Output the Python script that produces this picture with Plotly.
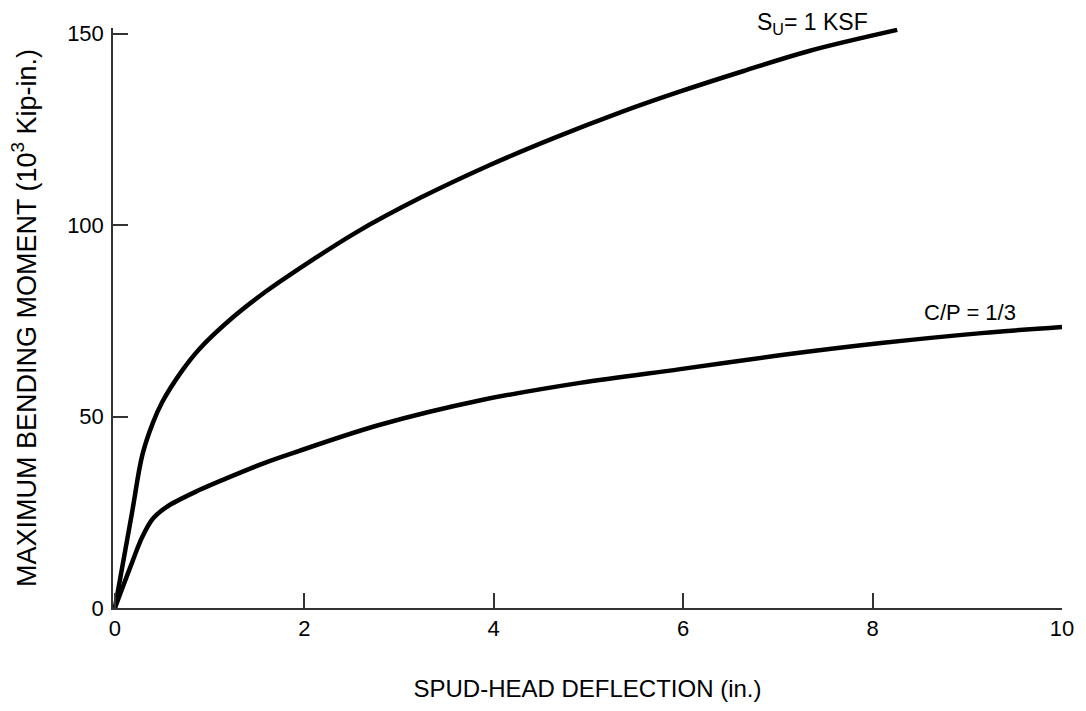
import plotly.graph_objects as go

# Deflection (in.) vs maximum bending moment (10^3 kip-in.)
su_x = [0, 0.18, 0.29, 0.40, 0.50, 0.71, 0.89, 1.24, 1.59, 1.84, 2.54, 3.23, 3.93, 4.64, 5.33, 5.93, 6.63, 7.33, 8.26]
su_y = [0, 24.8, 40.0, 48.3, 53.8, 62.0, 67.6, 75.8, 82.6, 86.9, 98.0, 107.2, 115.4, 122.8, 129.4, 134.6, 140.2, 145.5, 151.0]

cp_x = [0, 0.18, 0.29, 0.40, 0.54, 0.89, 1.24, 1.59, 1.94, 2.79, 3.85, 4.91, 5.97, 7.02, 8.09, 9.15, 10.0]
cp_y = [0, 11.8, 18.6, 23.3, 26.3, 30.8, 34.5, 38.0, 41.0, 47.8, 54.2, 58.8, 62.4, 66.0, 69.2, 71.8, 73.4]

x_ticks = [0, 2, 4, 6, 8, 10]
y_ticks = [0, 50, 100, 150]

FONT = "Liberation Sans, Arial, sans-serif"

fig = go.Figure()
fig.add_trace(go.Scatter(x=su_x, y=su_y, mode="lines",
                         line=dict(color="black", width=4.5, shape="spline", smoothing=1.0),
                         showlegend=False))
fig.add_trace(go.Scatter(x=cp_x, y=cp_y, mode="lines",
                         line=dict(color="black", width=4.5, shape="spline", smoothing=1.0),
                         showlegend=False))

fig.add_annotation(x=7.37, y=0.979, xref="x", yref="paper", yanchor="bottom",
                   text="S<sub>U</sub>= 1 KSF",
                   showarrow=False, font=dict(size=23, color="black", family=FONT))
fig.add_annotation(x=9.03, y=77.1, xref="x", yref="y", text="C/P = 1/3",
                   showarrow=False, font=dict(size=22, color="black", family=FONT))

fig.update_layout(
    width=1086, height=711,
    margin=dict(l=113, r=19, t=28, b=103),
    paper_bgcolor="white", plot_bgcolor="white",
    font=dict(family=FONT, color="black"),
    xaxis=dict(range=[-0.02, 10], tickvals=x_ticks, ticktext=[str(v) for v in x_ticks],
               showgrid=False, zeroline=False, showline=True, linecolor="#333", linewidth=1.5,
               ticks="inside", ticklen=15, tickwidth=1.5, tickcolor="#333",
               tickfont=dict(size=22), ticklabelstandoff=0,
               title=dict(text="SPUD-HEAD DEFLECTION (in.)", font=dict(size=24), standoff=40)),
    yaxis=dict(range=[0, 151.5], tickvals=y_ticks, ticktext=[str(v) for v in y_ticks],
               showgrid=False, zeroline=False, showline=True, linecolor="#333", linewidth=1.5,
               ticks="inside", ticklen=15, tickwidth=1.5, tickcolor="#333",
               tickfont=dict(size=22), ticklabelstandoff=3,
               title=dict(text="MAXIMUM BENDING MOMENT (10<sup>3</sup> Kip-in.)", font=dict(size=27), standoff=23)),
)

fig.write_html("out.html")
